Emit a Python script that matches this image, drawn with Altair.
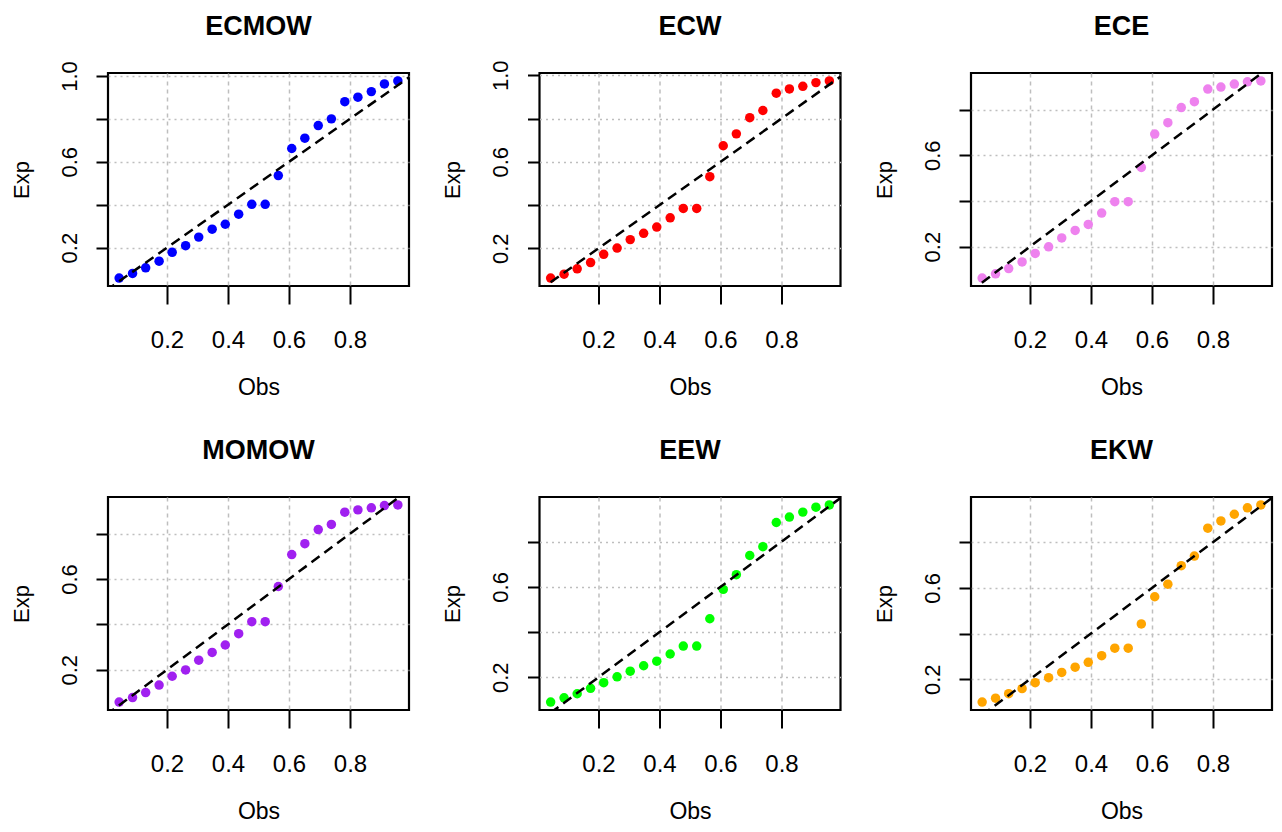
import altair as alt
import pandas as pd

FONT = "Liberation Sans, Arial, sans-serif"

obs = [0.043, 0.087, 0.130, 0.174, 0.217, 0.261, 0.304, 0.348, 0.391, 0.435, 0.478,
       0.522, 0.565, 0.609, 0.652, 0.696, 0.739, 0.783, 0.826, 0.870, 0.913, 0.957]

exp_ecmow = [0.058, 0.080, 0.106, 0.137, 0.178, 0.209, 0.249, 0.286, 0.309, 0.356, 0.402,
             0.402, 0.536, 0.662, 0.710, 0.769, 0.800, 0.880, 0.901, 0.927, 0.963, 0.977]
exp_ecw = [0.062, 0.080, 0.105, 0.134, 0.172, 0.201, 0.240, 0.269, 0.298, 0.341, 0.384,
           0.384, 0.531, 0.674, 0.729, 0.804, 0.837, 0.917, 0.937, 0.949, 0.966, 0.974]
exp_ece = [0.062, 0.081, 0.104, 0.133, 0.170, 0.199, 0.238, 0.271, 0.297, 0.347, 0.397,
           0.397, 0.547, 0.693, 0.743, 0.809, 0.835, 0.890, 0.899, 0.912, 0.922, 0.926]
exp_momow = [0.057, 0.077, 0.099, 0.132, 0.171, 0.199, 0.242, 0.276, 0.309, 0.359, 0.412,
             0.412, 0.567, 0.708, 0.756, 0.818, 0.841, 0.895, 0.905, 0.914, 0.924, 0.927]
exp_eew = [0.090, 0.109, 0.127, 0.151, 0.176, 0.202, 0.227, 0.251, 0.271, 0.303, 0.338,
           0.338, 0.459, 0.589, 0.654, 0.739, 0.778, 0.885, 0.909, 0.931, 0.953, 0.963]
exp_ekw = [0.100, 0.117, 0.137, 0.159, 0.185, 0.207, 0.230, 0.253, 0.274, 0.303, 0.336,
           0.336, 0.442, 0.561, 0.616, 0.697, 0.739, 0.861, 0.893, 0.922, 0.950, 0.963]

titles = ["ECMOW", "ECW", "ECE", "MOMOW", "EEW", "EKW"]
series = [exp_ecmow, exp_ecw, exp_ece, exp_momow, exp_eew, exp_ekw]
colors = ["#0000FF", "#FF0000", "#EE82EE", "#A020F0", "#00FF00", "#FFA500"]

x_ticks = [0.2, 0.4, 0.6, 0.8]
y_ticks_all = [0.2, 0.4, 0.6, 0.8, 1.0]
diag = [0.0, 1.0]

W, H = 301, 213


def expand(vals):
    lo, hi = min(vals), max(vals)
    r = hi - lo
    return [lo - 0.04 * r, hi + 0.04 * r]


def panel(name, yvals, color):
    df = pd.DataFrame({"Obs": obs, "Exp": yvals})
    ddf = pd.DataFrame({"Obs": diag, "Exp": diag})
    tdf = pd.DataFrame({"t": [name]})
    xdom = expand(obs)
    ydom = expand(yvals)
    yt = [v for v in y_ticks_all if ydom[0] <= v <= ydom[1]]
    xs = alt.Scale(domain=xdom, nice=False, zero=False)
    ys = alt.Scale(domain=ydom, nice=False, zero=False)
    xa = alt.Axis(values=x_ticks, format=".1f", title="Obs", grid=True,
                  gridDash=[4, 4], gridColor="#BEBEBE", gridWidth=1.5,
                  domain=False, tickSize=18, tickWidth=2, tickColor="black",
                  labelFont=FONT, labelFontSize=24, labelColor="black",
                  labelPadding=24, labelBaseline="top", labelAlign="center",
                  labelFlush=False, labelOverlap=False,
                  titleFont=FONT, titleFontSize=23, titleFontWeight="normal",
                  titleColor="black", titleBaseline="alphabetic", titleY=108,
                  titleX=W / 2, titleAlign="center")
    ya = alt.Axis(values=yt, format=".1f", title="Exp", grid=True,
                  gridDash=[2, 4], gridColor="#BEBEBE", gridWidth=1.5,
                  domain=False, tickSize=12, tickWidth=2, tickColor="black",
                  labelFont=FONT, labelFontSize=22, labelColor="black",
                  labelAngle=270, labelAlign="center", labelBaseline="alphabetic",
                  labelPadding=20, labelFlush=False, labelOverlap=False,
                  labelExpr="round(datum.value*10) % 4 == 2 ? datum.label : ''",
                  titleFont=FONT, titleFontSize=22, titleFontWeight="normal",
                  titleColor="black", titleAngle=270, titleAlign="center",
                  titleBaseline="alphabetic", titleX=-80, titleY=H / 2)
    pts = alt.Chart(df).mark_circle(size=90, opacity=1, color=color).encode(
        x=alt.X("Obs:Q", scale=xs, axis=xa),
        y=alt.Y("Exp:Q", scale=ys, axis=ya),
    )
    line = alt.Chart(ddf).mark_line(color="black", strokeDash=[10, 6],
                                     strokeWidth=2.5, clip=True).encode(
        x=alt.X("Obs:Q", scale=xs, axis=xa),
        y=alt.Y("Exp:Q", scale=ys, axis=ya),
    )
    ttl = alt.Chart(tdf).mark_text(font=FONT, fontSize=27, fontWeight="bold",
                                   color="black", align="center",
                                   baseline="alphabetic").encode(
        text="t:N", x=alt.value(W / 2), y=alt.value(-38))
    return alt.layer(pts, line, ttl).properties(width=W, height=H)


panels = [panel(n, s, c) for n, s, c in zip(titles, series, colors)]

chart = alt.concat(*panels, columns=3, spacing={"row": 211, "column": 130.5},
                   bounds="flush").properties(
    padding={"left": 0, "top": 3, "right": 0, "bottom": 0}
).configure_view(stroke="black", strokeWidth=2.2)

chart.save("out.html", embed_options={"renderer": "svg", "actions": False})
